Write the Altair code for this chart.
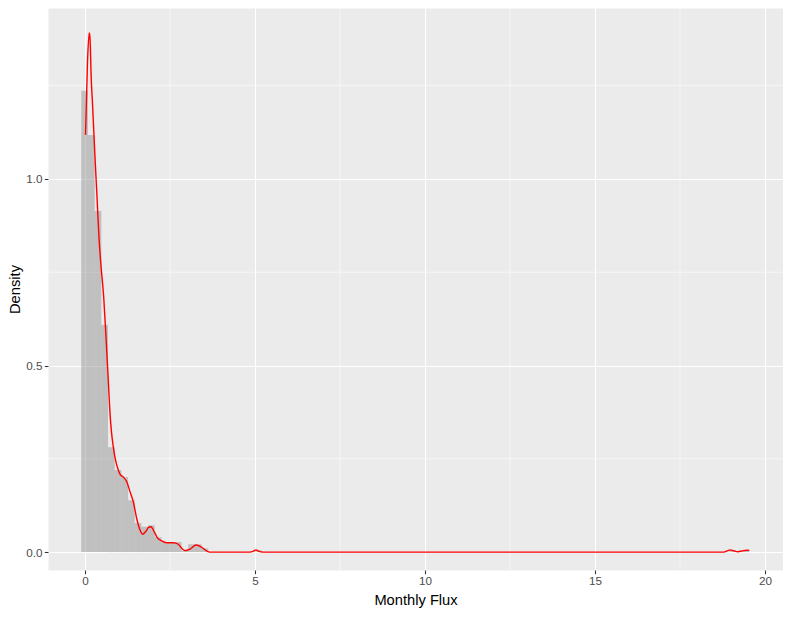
import altair as alt
import pandas as pd

# ---- data ----
binwidth = 0.1965
bin_origin = -0.109
bin_index = [0, 1, 2, 3, 4, 5, 6, 7, 8, 9, 10, 11, 12, 13, 14, 15, 16, 17, 18, 26, 97, 99]
bin_density = [1.236, 1.118, 0.914, 0.609, 0.281, 0.220, 0.201, 0.139, 0.078, 0.068,
               0.072, 0.040, 0.027, 0.027, 0.027, 0.003, 0.021, 0.021, 0.010,
               0.005, 0.005, 0.005]

kde_x = [0.015, 0.074, 0.124, 0.147, 0.185, 0.215, 0.294, 0.353, 0.412, 0.471,
         0.55, 0.618, 0.685, 0.735, 0.779, 0.832, 0.897, 0.979, 1.029, 1.126,
         1.226, 1.324, 1.421, 1.521, 1.618, 1.697, 1.794, 1.868, 1.941, 2.038,
         2.126, 2.256, 2.403, 2.597, 2.744, 2.844, 2.941, 3.088, 3.265, 3.432,
         3.579, 3.676, 4.853, 4.941, 5.029, 5.118, 5.235, 18.794, 18.882, 18.971,
         19.088, 19.206, 19.324, 19.462, 19.538]
kde_y = [1.118, 1.314, 1.391, 1.378, 1.265, 1.212, 1.059, 0.952, 0.842, 0.767,
         0.684, 0.576, 0.461, 0.373, 0.322, 0.282, 0.247, 0.220, 0.209, 0.201,
         0.189, 0.162, 0.135, 0.090, 0.059, 0.048, 0.056, 0.066, 0.068, 0.054,
         0.039, 0.030, 0.025, 0.025, 0.021, 0.010, 0.004, 0.008, 0.019, 0.013,
         0.003, 0.000, 0.000, 0.002, 0.006, 0.002, 0.000, 0.000, 0.003, 0.006,
         0.003, 0.001, 0.003, 0.005, 0.0045]

x_ticks = [0, 5, 10, 15, 20]
y_ticks = [0.0, 0.5, 1.0]
x_minor = [2.5, 7.5, 12.5, 17.5]
y_minor = [0.25, 0.75, 1.25]

x_domain = [-1.088, 20.53]
y_domain = [-0.048, 1.458]

# ---- tables ----
hist = pd.DataFrame({
    "x": [bin_origin + i * binwidth for i in bin_index],
    "x2": [bin_origin + (i + 1) * binwidth for i in bin_index],
    "y": [0.0] * len(bin_index),
    "y2": bin_density,
})
kde = pd.DataFrame({"x": kde_x, "y": kde_y})
mx = pd.DataFrame({"x": x_minor})
my = pd.DataFrame({"y": y_minor})

FONT = "Liberation Sans"
xs = alt.Scale(domain=x_domain, nice=False, zero=False)
ys = alt.Scale(domain=y_domain, nice=False, zero=False)
xaxis = alt.Axis(values=x_ticks, format="d", title="Monthly Flux", titlePadding=5)
yaxis = alt.Axis(values=y_ticks, format=".1f", title="Density", titlePadding=3)

minor_x = alt.Chart(mx).mark_rule(color="white", strokeWidth=0.55).encode(
    x=alt.X("x:Q", scale=xs, axis=xaxis)
)
minor_y = alt.Chart(my).mark_rule(color="white", strokeWidth=0.55).encode(
    y=alt.Y("y:Q", scale=ys, axis=yaxis)
)
bars = alt.Chart(hist).mark_rect(color="#7F7F7F", opacity=0.4).encode(
    x=alt.X("x:Q", scale=xs, axis=xaxis),
    x2="x2:Q",
    y=alt.Y("y:Q", scale=ys, axis=yaxis),
    y2="y2:Q",
)
line = alt.Chart(kde).mark_line(color="red", strokeWidth=1.4, interpolate="monotone").encode(
    x=alt.X("x:Q", scale=xs, axis=xaxis),
    y=alt.Y("y:Q", scale=ys, axis=yaxis),
)

chart = alt.layer(minor_x, minor_y, bars, line).properties(
    width=735,
    height=562,
    autosize=alt.AutoSizeParams(type="none"),
    padding={"left": 40, "top": 0, "right": 0, "bottom": 50},
).configure_view(
    fill="#EBEBEB", stroke="transparent"
).configure_axis(
    domain=False,
    grid=True,
    gridColor="white",
    gridWidth=1.07,
    tickColor="#333333",
    tickSize=3.7,
    tickWidth=1.07,
    labelColor="#4D4D4D",
    labelFontSize=11.7,
    labelFont=FONT,
    labelPadding=2.2,
    titleFont=FONT,
    titleFontSize=14.7,
    titleFontWeight="normal",
    titleColor="black",
)

chart.save("out.html", embed_options={"renderer": "svg", "actions": False})
